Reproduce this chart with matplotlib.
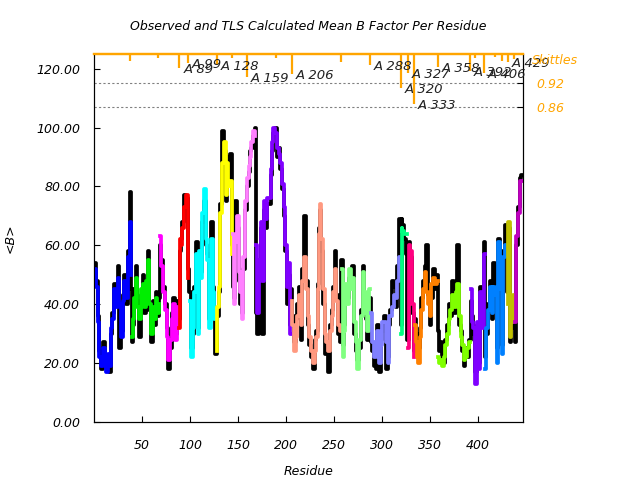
import numpy as np
import matplotlib
matplotlib.use("Agg")
import matplotlib.pyplot as plt

plt.rcParams['font.family'] = ['DejaVu Sans']
plt.rcParams['font.style'] = 'italic'

# =========================
# data: residue, TLS <B>, observed <B> per segment
# =========================
seg_colors = ['#0000ff', '#00ee00', '#ff00ff', '#ff0000', '#00ffff', '#ffff00',
              '#ff80ff', '#8000ff', '#ff9980', '#80ff80', '#8080ff', '#00ff80',
              '#ff0080', '#ff8000', '#80ff00', '#8000ff', '#0080ff', '#c0c000',
              '#c000c0']

seg_res = [
    [1, 3, 5, 6, 8, 10, 12, 13, 15, 17, 18, 20, 22, 24, 25, 27, 29, 31, 32, 34, 36, 38, 39],
    [40, 41, 43, 44, 46, 48, 50, 51, 53, 55, 57, 58, 60, 62, 64, 65, 67, 68],
    [69, 71, 73, 75, 76, 78, 80, 82, 83, 85, 87, 88],
    [89, 90, 91, 93, 95, 97, 98],
    [100, 102, 104, 105, 107, 109, 110, 112, 114, 116, 117, 119, 121, 123, 124, 126, 127],
    [128, 129, 131, 132, 134, 136, 138, 139, 141, 143, 144],
    [145, 146, 148, 150, 152, 153, 155, 156, 158, 160, 162, 163, 165, 167, 168],
    [169, 171, 173, 174, 176, 178, 179, 181, 183, 185, 186, 188, 190, 192, 193, 195, 197, 199, 200, 202, 204, 205],
    [206, 207, 209, 211, 213, 215, 216, 218, 220, 222, 223, 225, 227, 229, 231, 232, 234, 235, 236, 238,
     240, 241, 243, 245, 247, 248, 250, 252, 253, 255, 257],
    [258, 260, 261, 263, 265, 267, 268, 270, 272, 274, 275, 277, 279, 281, 282, 284, 286, 288],
    [289, 291, 293, 294, 296, 298, 300, 301, 303, 305, 307, 308, 310, 312, 314, 315, 317, 319],
    [320, 321, 322, 324, 326],
    [327, 329, 330, 332, 334],
    [335, 336, 337, 339, 340, 342, 344, 345, 347, 349, 351, 352, 354, 356, 358],
    [359, 360, 362, 364, 365, 367, 369, 371, 372, 374, 376, 378, 379, 381, 383, 385, 386, 388, 390, 392],
    [393, 394, 396, 398, 400, 402, 403, 405, 407],
    [408, 410, 412, 414, 415, 417, 419, 421, 422, 424, 426, 427, 429],
    [431, 433, 434, 436, 438],
    [439, 441, 443, 444, 446],
]

seg_tls = [
    [52, 46, 34, 22, 19, 25, 20, 17, 23, 19, 32, 35, 45, 39, 49, 40, 29, 41, 48, 42, 56, 68, 50],
    [29, 35, 42, 49, 39, 35, 45, 47, 39, 48, 55, 40, 30, 39, 35, 42, 37, 40],
    [63, 53, 44, 38, 29, 21, 28, 35, 40, 28, 39, 36],
    [32, 62, 60, 66, 73, 77, 49],
    [41, 22, 32, 44, 57, 30, 58, 49, 71, 79, 62, 55, 32, 62, 44, 35, 38],
    [24, 39, 46, 71, 88, 95, 77, 88, 80, 82, 57],
    [64, 40, 61, 70, 51, 44, 35, 56, 75, 83, 87, 90, 95, 99, 97],
    [60, 37, 55, 68, 48, 75, 69, 76, 76, 86, 95, 100, 98, 93, 91, 88, 81, 73, 60, 46, 54, 30],
    [41, 33, 24, 29, 36, 43, 33, 48, 56, 45, 36, 29, 24, 20, 24, 29, 45, 64, 74, 62,
     45, 30, 27, 24, 31, 36, 44, 52, 41, 33, 31],
    [52, 22, 31, 47, 40, 52, 45, 49, 34, 27, 18, 28, 36, 51, 44, 37, 31, 45],
    [37, 27, 22, 27, 31, 20, 26, 34, 34, 27, 20, 36, 36, 39, 43, 42, 48, 56],
    [30, 66, 65, 64, 64],
    [25, 60, 58, 40, 22],
    [33, 27, 22, 20, 29, 38, 45, 51, 44, 40, 36, 47, 49, 47, 48],
    [22, 20, 21, 19, 22, 26, 30, 35, 38, 43, 39, 44, 47, 36, 29, 26, 21, 22, 25, 27],
    [45, 34, 32, 13, 34, 18, 44, 32, 57],
    [18, 32, 38, 46, 37, 46, 43, 20, 61, 45, 23, 56, 60],
    [40, 68, 29, 34, 43],
    [34, 63, 71, 82, 82],
]

seg_obs = [
    [54, 48, 36, 24, 18, 27, 22, 19, 21, 17, 30, 37, 47, 41, 53, 25, 31, 43, 50, 40, 58, 78, 45],
    [27, 33, 45, 53, 41, 29, 43, 50, 37, 46, 58, 38, 27, 41, 33, 44, 36, 42],
    [60, 55, 46, 40, 32, 18, 25, 37, 42, 30, 41, 38],
    [35, 58, 62, 68, 77, 76, 52],
    [44, 25, 30, 46, 61, 32, 55, 51, 68, 75, 60, 57, 35, 68, 46, 37, 23],
    [23, 36, 44, 74, 99, 92, 75, 90, 83, 91, 60],
    [46, 42, 75, 66, 48, 40, 37, 52, 72, 80, 85, 92, 93, 97, 100],
    [37, 30, 52, 66, 30, 72, 66, 74, 74, 84, 92, 98, 100, 90, 93, 86, 79, 70, 58, 40, 50, 33],
    [45, 36, 27, 35, 40, 46, 28, 52, 70, 48, 33, 26, 22, 18, 28, 31, 47, 66, 72, 58,
     40, 23, 25, 17, 33, 38, 46, 58, 43, 30, 27],
    [55, 26, 33, 44, 42, 49, 47, 53, 30, 24, 21, 25, 38, 53, 42, 35, 28, 42],
    [27, 24, 19, 18, 33, 17, 28, 31, 36, 18, 22, 33, 38, 48, 46, 39, 53, 69],
    [33, 69, 67, 62, 57],
    [28, 61, 56, 37, 24],
    [35, 30, 24, 25, 32, 42, 48, 53, 60, 43, 33, 42, 52, 45, 50],
    [31, 24, 27, 22, 20, 28, 33, 40, 36, 48, 37, 42, 60, 33, 31, 24, 19, 25, 22, 28],
    [41, 36, 30, 17, 33, 20, 46, 35, 61],
    [22, 30, 40, 48, 35, 54, 45, 25, 62, 47, 26, 58, 67],
    [44, 66, 27, 32, 40],
    [27, 60, 73, 83, 84],
]

# skittles (segment boundaries)
sk_res = [37, 67, 89, 98, 128, 144, 159, 190, 206, 257, 288, 320, 327, 333, 358,
          392, 397, 406, 418, 425, 431, 438]
sk_val = [0.975, 0.982, 0.957, 0.970, 0.965, 0.982, 0.935, 0.982, 0.942, 0.972, 0.965,
          0.907, 0.945, 0.867, 0.960, 0.950, 0.982, 0.945, 0.985, 0.975, 0.972, 0.980]
sk_label = ['', '', 'A 89', 'A 99', 'A 128', '', 'A 159', '', 'A 206', '', 'A 288',
            'A 320', 'A 327', 'A 333', 'A 358', 'A 392', '', 'A 406', '', '', 'A 429', '']

sk_lines = [0.92, 0.86]

# =========================
# plot
# =========================
fig = plt.figure(figsize=(6.4, 4.8), dpi=100)
ax = fig.add_axes([0.147, 0.121, 0.670, 0.7665])

obs_x = np.concatenate([np.array(r) for r in seg_res])
obs_y = np.concatenate([np.array(v) for v in seg_obs])
ax.plot(obs_x, obs_y, color='black', lw=2.7, drawstyle='steps-mid', zorder=2)

for r, v, c in zip(seg_res, seg_tls, seg_colors):
    ax.plot(r, v, color=c, lw=2.7, drawstyle='steps-mid', zorder=3)

ax.set_xlim(0, 447)
ax.set_ylim(0, 125)
ax.set_xticks(np.arange(50, 401, 50))
ax.set_yticks(np.arange(0, 121, 20))
ax.yaxis.set_major_formatter(matplotlib.ticker.FormatStrFormatter('%.2f'))
ax.tick_params(direction='in', length=4, labelsize=9, pad=10)
ax.tick_params(axis='x', pad=12)
ax.set_xlabel('Residue', fontsize=9, labelpad=10)
ax.set_ylabel('<B>', fontsize=9, labelpad=14)
ax.set_title('Observed and TLS Calculated Mean B Factor Per Residue', fontsize=9, pad=17)

# skittles on a twin axis
ax2 = ax.twinx()
ax2.set_ylim(0.0725, 0.9925)
ax2.set_yticks(sk_lines)
ax2.yaxis.set_major_formatter(matplotlib.ticker.FormatStrFormatter('%.2f'))
ax2.tick_params(direction='in', length=4, labelsize=9, colors='black', labelcolor='orange', pad=10)
for v in sk_lines:
    ax2.axhline(v, color='gray', lw=0.8, ls=(0, (2, 2)), zorder=1)
ax2.vlines(sk_res, sk_val, 0.9925, color='orange', lw=1.6)
for r, v, t in zip(sk_res, sk_val, sk_label):
    if t:
        ax2.text(r + 4, v - 0.004, t, fontsize=9.5, va='center', ha='left', color='#222222')
ax2.text(1.02, 0.975, 'Skittles', transform=ax2.get_yaxis_transform(), color='orange',
         fontsize=9, va='center', ha='left')
for a in (ax, ax2):
    a.spines['top'].set_color('orange')
    a.spines['top'].set_linewidth(1.6)

fig.savefig('out.png')
